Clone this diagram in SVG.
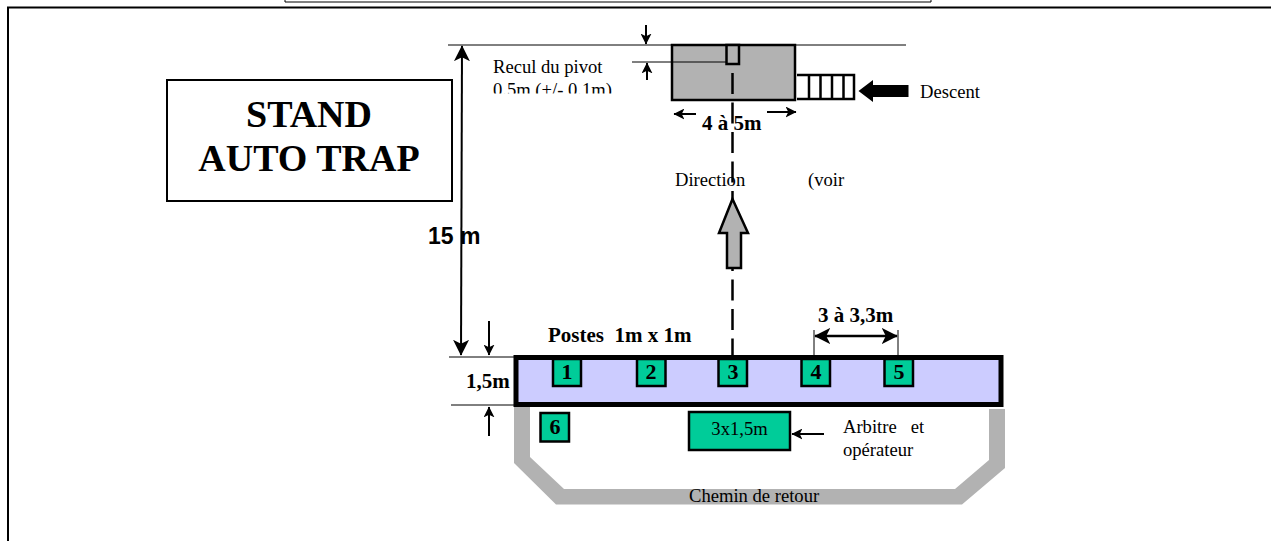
<svg xmlns="http://www.w3.org/2000/svg" width="1271" height="541" viewBox="0 0 1271 541">
<style>
.t{font-family:"Liberation Serif","Times New Roman",serif;fill:#000}
.b{font-weight:bold}
.r{font-size:18.600px}
.bl{font-size:21px;font-weight:bold}
.n{font-size:22px;font-weight:bold;text-anchor:middle}
.l{stroke:#000;stroke-width:1;fill:none}
.a{stroke:#000;stroke-width:2;fill:none}
.g{fill:#00cc99;stroke:#000;stroke-width:2.500}
</style>
<defs>
<marker id="ah" viewBox="0 0 10 10" refX="9.5" refY="5" markerWidth="11" markerHeight="11" markerUnits="userSpaceOnUse" orient="auto-start-reverse"><path d="M0,0 L10,5 L0,10 L2.5,5 Z" fill="#000"/></marker>
<marker id="ah2" viewBox="0 0 10 10" refX="9.5" refY="5" markerWidth="16" markerHeight="16" markerUnits="userSpaceOnUse" orient="auto-start-reverse"><path d="M0,0 L10,5 L0,10 L2.5,5 Z" fill="#000"/></marker>
<clipPath id="c"><rect x="480" y="78" width="160" height="15.500"/></clipPath>
</defs>
<rect width="1271" height="541" fill="#fff"/>
<g id="frame">
<path d="M1271,7.500 H8 V541" fill="none" stroke="#000" stroke-width="2"/>
<path d="M285,0 V2 H931 V0" fill="none" stroke="#000" stroke-width="1"/>
</g>
<g id="title">
<rect x="167" y="80" width="285" height="121" fill="#fff" stroke="#000" stroke-width="2"/>
<text class="t b" x="309" y="127" font-size="38" text-anchor="middle">STAND</text>
<text class="t b" x="309" y="171" font-size="38" text-anchor="middle">AUTO TRAP</text>
</g>
<g id="return-path">
<path d="M514,405 V463 L556,504.500 H962 L1005,468 V409 H989 V460 L955,489 H564 L530,457 V405 Z" fill="#b2b2b2"/>
<text class="t r" x="689" y="502">Chemin de retour</text>
</g>
<g id="pad">
<rect x="516" y="357.500" width="485" height="47" fill="#ccccff" stroke="#000" stroke-width="5"/>
</g>
<g id="trap-house">
<rect x="672" y="45" width="123" height="55" fill="#b2b2b2" stroke="#000" stroke-width="2.500"/>
<rect x="726.500" y="45" width="12.500" height="19" fill="#b2b2b2" stroke="#000" stroke-width="2.500"/>
</g>
<g id="stairs">
<path d="M797,75 H854 V99 H797 M809,75 V99 M820.500,75 V99 M832,75 V99 M843.500,75 V99" fill="#fff" stroke="#000" stroke-width="2.500"/>
</g>
<g id="connectors">
<path class="l" d="M448,45 H906"/>
<path class="l" d="M632,62 H727"/>
<path class="l" d="M449,357 H516"/>
<path class="l" d="M451,405 H516"/>
<path d="M732.500,73 V355" fill="none" stroke="#000" stroke-width="2.500" stroke-dasharray="21 8.500"/>
<path class="a" d="M462,46 L461,355" marker-start="url(#ah2)" marker-end="url(#ah2)"/>
<path class="a" d="M646,25 V44" marker-end="url(#ah)"/>
<path class="a" d="M647,80 V63" marker-end="url(#ah)"/>
<path class="a" d="M489,321 V355" marker-end="url(#ah)"/>
<path class="a" d="M489,436 V407" marker-end="url(#ah)"/>
<path class="a" d="M696,114 H674" marker-end="url(#ah)"/>
<path class="a" d="M767,112 H796" marker-end="url(#ah)"/>
<path class="a" d="M824,434 H792" marker-end="url(#ah)"/>
<path d="M815,336 H897" fill="none" stroke="#000" stroke-width="2.500" marker-start="url(#ah2)" marker-end="url(#ah2)"/>
<path class="l" d="M814,330 V357 M898,330 V357"/>
<path d="M732.500,199 L748,233 H741 V268 H727 V233 H719 Z" fill="#b2b2b2" stroke="#000" stroke-width="2.500"/>
<path d="M858.500,91 L873,80 V85 H908.500 V97 H873 V102 Z" fill="#000"/>
</g>
<g id="post-1"><rect class="g" x="553" y="359" width="28" height="27"/><text class="t n" x="567" y="379">1</text></g>
<g id="post-2"><rect class="g" x="637" y="359" width="28.500" height="27"/><text class="t n" x="651" y="379">2</text></g>
<g id="post-3"><rect class="g" x="718.500" y="359" width="28.500" height="27"/><text class="t n" x="733" y="379">3</text></g>
<g id="post-4"><rect class="g" x="801.500" y="359" width="28.500" height="27"/><text class="t n" x="816" y="379">4</text></g>
<g id="post-5"><rect class="g" x="884.500" y="359" width="28.500" height="27"/><text class="t n" x="899" y="379">5</text></g>
<g id="post-6"><rect class="g" x="540.500" y="413" width="28.500" height="28.500"/><text class="t n" x="555" y="434">6</text></g>
<g id="referee-box"><rect class="g" x="689" y="412" width="101" height="38"/><text class="t r" x="739.500" y="435" text-anchor="middle">3x1,5m</text></g>
<g id="labels">
<text class="t r" x="493" y="73">Recul du pivot</text>
<g clip-path="url(#c)"><text class="t r" x="493" y="96">0.5m (+/- 0.1m)</text></g>
<text class="t r" x="920" y="98">Descent</text>
<text class="t bl" x="702" y="130">4 à 5m</text>
<text class="t r" x="675" y="186">Direction</text>
<text class="t r" x="808" y="186">(voir</text>
<text x="428" y="244" font-family="'Liberation Sans',Arial,sans-serif" font-size="23" font-weight="bold">15 m</text>
<text class="t bl" x="548" y="342" xml:space="preserve">Postes  1m x 1m</text>
<text class="t bl" x="818" y="322">3 à 3,3m</text>
<text class="t bl" x="466" y="388">1,5m</text>
<text class="t r" x="843" y="433" xml:space="preserve">Arbitre   et</text>
<text class="t r" x="843" y="456">opérateur</text>
</g>
</svg>
